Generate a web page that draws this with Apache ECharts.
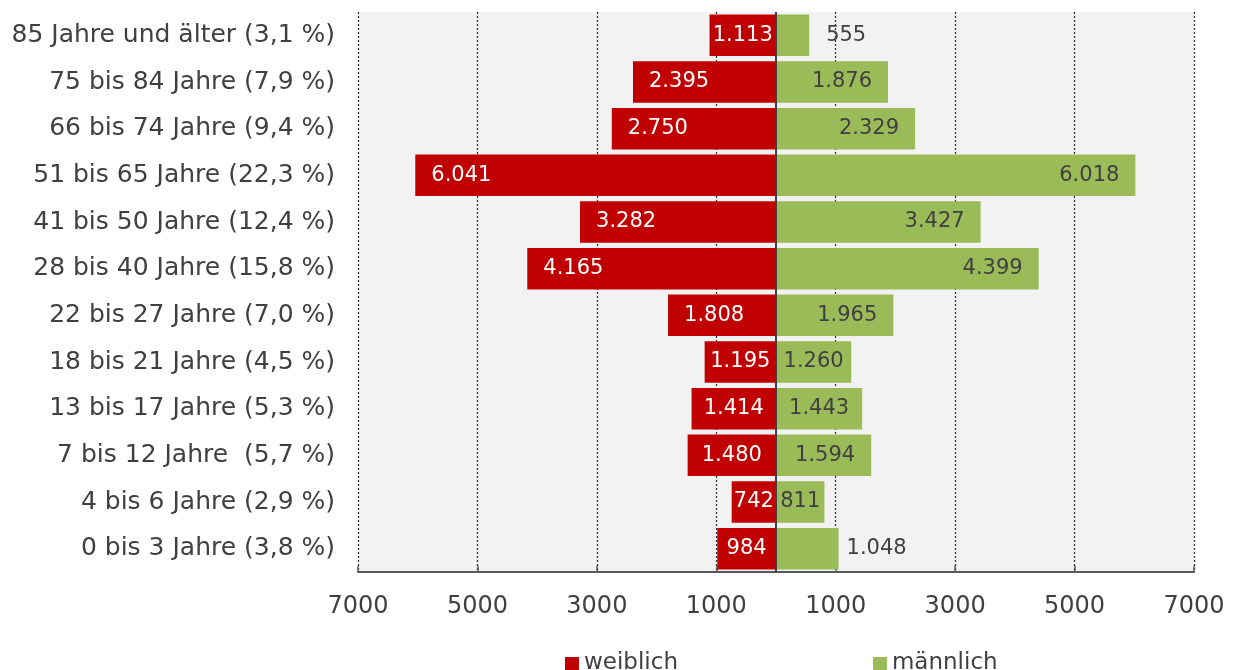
<!DOCTYPE html>
<html><head><meta charset="utf-8">
<script src="https://cdn.jsdelivr.net/npm/echarts@6/dist/echarts.min.js"></script>
<style>html,body{margin:0;padding:0;background:#fff}#c{width:1233px;height:670px}</style>
</head><body><div id="c"></div>
<script>
const categories = ["85 Jahre und älter (3,1 %)","75 bis 84 Jahre (7,9 %)","66 bis 74 Jahre (9,4 %)","51 bis 65 Jahre (22,3 %)","41 bis 50 Jahre (12,4 %)","28 bis 40 Jahre (15,8 %)","22 bis 27 Jahre (7,0 %)","18 bis 21 Jahre (4,5 %)","13 bis 17 Jahre (5,3 %)","7 bis 12 Jahre  (5,7 %)","4 bis 6 Jahre (2,9 %)","0 bis 3 Jahre (3,8 %)"];
const weiblich = [1113,2395,2750,6041,3282,4165,1808,1195,1414,1480,742,984];
const maennlich = [555,1876,2329,6018,3427,4399,1965,1260,1443,1594,811,1048];
const tickLabels = ["7000","5000","3000","1000","1000","3000","5000","7000"];

const FONT = 'DejaVu Sans, Verdana, sans-serif';
const TXT = '#404040';
function fmt(v){ v = Math.abs(v); return v >= 1000 ? Math.floor(v/1000) + '.' + String(v%1000).padStart(3,'0') : String(v); }

const femaleCenter = new Set([1113,1195,742,984,1414,1480]);
const maleCenter = new Set([1260,1443,811]);
const maleOutside = new Set([555,1048]);

const fData = weiblich.map(v => {
  const d = {value: -v};
  if (femaleCenter.has(v)) d.label = {position: 'inside'};
  return d;
});
const mData = maennlich.map(v => {
  const d = {value: v};
  if (maleCenter.has(v)) d.label = {position: 'inside'};
  if (maleOutside.has(v)) d.label = {position: 'right', distance: v === 555 ? 17 : 8};
  return d;
});

const chart = echarts.init(document.getElementById('c'), null, {renderer: 'canvas'});
chart.setOption({
  animation: false,
  textStyle: {fontFamily: FONT},
  grid: {left: 358, right: 39, top: 12, bottom: 98, show: true, backgroundColor: '#f2f2f2', borderWidth: 0},
  legend: {
    left: 560, top: 647, itemWidth: 14, itemHeight: 13, itemGap: 195, icon: 'rect',
    textStyle: {fontSize: 23, color: TXT, fontFamily: FONT},
    data: ['weiblich','männlich']
  },
  xAxis: [
    {type: 'value', min: -7000, max: 7000, show: false},
    {type: 'value', min: 0, max: 14000, interval: 2000, position: 'bottom',
     axisLine: {show: true, lineStyle: {color: '#595959', width: 2}},
     axisTick: {show: true, inside: true, length: 6, lineStyle: {color: '#595959', width: 1.5}},
     axisLabel: {fontSize: 24, color: TXT, margin: 23, fontFamily: FONT,
       formatter: (v) => tickLabels[Math.round(v/2000)]},
     splitLine: {show: true, lineStyle: {color: '#333333', type: [2,2], width: 1.3}}}
  ],
  yAxis: {
    type: 'category', data: categories, inverse: true,
    axisLine: {show: false}, axisTick: {show: false},
    axisLabel: {fontSize: 25, color: TXT, margin: 23, fontFamily: FONT}
  },
  series: [
    {name: 'weiblich', type: 'bar', stack: 'a', xAxisIndex: 0, data: fData, barWidth: '89%',
     itemStyle: {color: '#c00000'},
     label: {show: true, position: 'insideLeft', distance: 16, color: '#fff', fontSize: 21, fontFamily: FONT,
       formatter: p => fmt(p.value)},
     markLine: {silent: true, symbol: 'none', label: {show: false},
       lineStyle: {color: '#404040', type: 'solid', width: 2}, data: [{xAxis: 0}]}},
    {name: 'männlich', type: 'bar', stack: 'a', xAxisIndex: 0, data: mData, barWidth: '89%',
     itemStyle: {color: '#9bbb59'},
     label: {show: true, position: 'insideRight', distance: 16, color: TXT, fontSize: 21, fontFamily: FONT,
       formatter: p => fmt(p.value)}}
  ]
});
</script></body></html>
